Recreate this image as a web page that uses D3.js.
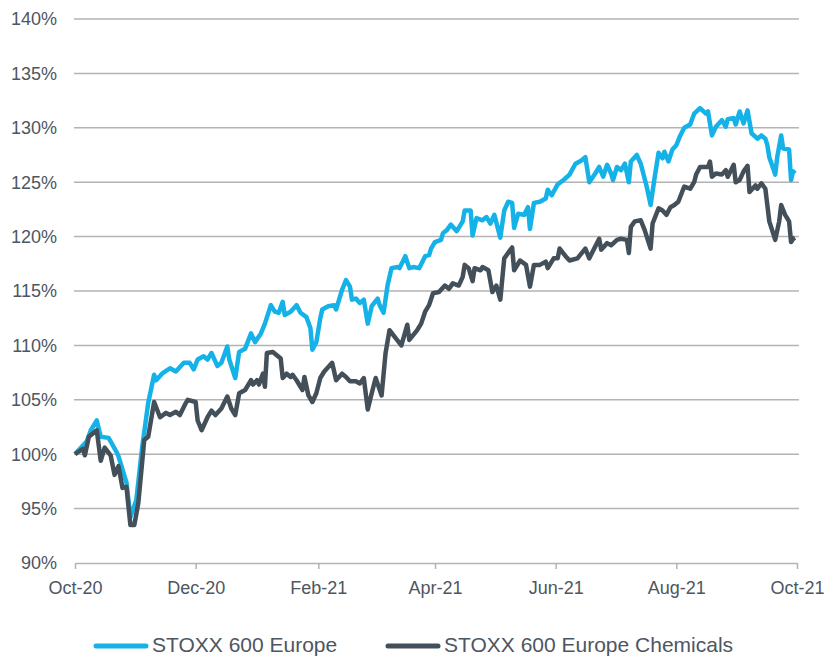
<!DOCTYPE html>
<html>
<head>
<meta charset="utf-8">
<script src="https://cdn.jsdelivr.net/npm/d3@7"></script>
<style>
  body { margin: 0; background: #fff; }
  svg text { font-family: "Liberation Sans", Arial, sans-serif; fill: #4d5661; }
</style>
</head>
<body>
<div id="chart"></div>
<script>
// STOXX 600 Europe, rebased to 100% on 1 Oct 2020
var europeDates = ["2020-10-01","2020-10-05","2020-10-07","2020-10-09","2020-10-12","2020-10-14","2020-10-18","2020-10-22","2020-10-23","2020-10-27",
  "2020-10-29","2020-11-01","2020-11-04","2020-11-07","2020-11-10","2020-11-11","2020-11-14","2020-11-18","2020-11-21","2020-11-25",
  "2020-11-28","2020-11-30","2020-12-02","2020-12-05","2020-12-07","2020-12-09","2020-12-12","2020-12-14","2020-12-17","2020-12-18",
  "2020-12-21","2020-12-23","2020-12-26","2020-12-29","2020-12-31","2021-01-03","2021-01-05","2021-01-08","2021-01-10","2021-01-12",
  "2021-01-14","2021-01-15","2021-01-18","2021-01-21","2021-01-23","2021-01-26","2021-01-28","2021-01-29","2021-01-31","2021-02-02",
  "2021-02-03","2021-02-06","2021-02-09","2021-02-10","2021-02-13","2021-02-15","2021-02-17","2021-02-18","2021-02-20","2021-02-22",
  "2021-02-24","2021-02-26","2021-02-28","2021-03-03","2021-03-04","2021-03-06","2021-03-08","2021-03-10","2021-03-13","2021-03-14",
  "2021-03-17","2021-03-19","2021-03-21","2021-03-24","2021-03-27","2021-03-29","2021-03-30","2021-04-01","2021-04-04","2021-04-05",
  "2021-04-07","2021-04-09","2021-04-12","2021-04-15","2021-04-16","2021-04-19","2021-04-20","2021-04-22","2021-04-25","2021-04-27",
  "2021-04-29","2021-05-01","2021-05-04","2021-05-06","2021-05-08","2021-05-10","2021-05-11","2021-05-13","2021-05-16","2021-05-18",
  "2021-05-19","2021-05-21","2021-05-24","2021-05-27","2021-05-28","2021-05-30","2021-06-02","2021-06-05","2021-06-08","2021-06-11",
  "2021-06-14","2021-06-16","2021-06-18","2021-06-21","2021-06-23","2021-06-25","2021-06-27","2021-06-29","2021-06-30","2021-07-02",
  "2021-07-04","2021-07-06","2021-07-08","2021-07-09","2021-07-12","2021-07-14","2021-07-17","2021-07-19","2021-07-21","2021-07-23",
  "2021-07-25","2021-07-26","2021-07-28","2021-07-30","2021-08-01","2021-08-03","2021-08-05","2021-08-08","2021-08-10","2021-08-13",
  "2021-08-16","2021-08-17","2021-08-19","2021-08-21","2021-08-24","2021-08-26","2021-08-27","2021-08-30","2021-08-31","2021-09-02",
  "2021-09-04","2021-09-06","2021-09-08","2021-09-11","2021-09-13","2021-09-15","2021-09-16","2021-09-17","2021-09-20","2021-09-21",
  "2021-09-23","2021-09-24","2021-09-27","2021-09-28","2021-09-29","2021-09-30"];
var europeValues = [100.0,100.8,101.2,102.2,103.1,101.6,101.5,100.2,99.8,97.4,
  94.2,95.8,100.7,104.7,107.3,106.8,107.4,107.9,107.6,108.4,
  108.4,107.8,108.7,109.0,108.7,109.3,108.1,108.4,109.9,108.7,
  107.0,109.4,109.7,111.1,110.3,111.1,112.0,113.7,113.1,113.0,
  114.0,112.8,113.1,113.7,113.0,112.6,111.6,109.6,110.3,112.5,
  113.3,113.6,113.7,113.3,115.1,116.0,115.4,114.2,114.3,113.9,
  114.2,112.0,113.6,114.3,113.7,113.0,115.5,117.1,117.2,117.1,
  118.2,117.1,117.2,117.1,118.2,118.3,118.9,119.5,119.7,120.3,
  120.6,121.1,120.5,121.4,122.4,122.4,120.1,121.7,121.5,121.8,
  121.2,122.0,119.9,122.4,123.2,123.1,120.8,122.1,122.0,122.7,
  120.7,123.1,123.2,123.5,124.3,123.8,124.8,125.2,125.7,126.7,
  127.0,127.3,125.0,125.8,126.4,125.5,126.6,125.8,125.2,126.4,
  126.1,126.7,125.0,126.9,127.5,126.7,124.6,122.9,125.4,127.7,
  127.2,127.8,126.9,128.0,128.4,129.3,130.0,130.3,131.3,131.8,
  131.3,131.5,129.3,130.1,130.7,130.1,130.8,130.9,130.3,131.5,
  130.4,131.6,129.5,129.0,129.3,129.0,128.4,127.3,125.7,127.3,
  129.3,128.1,128.0,125.2,126.0,125.8];

// STOXX 600 Europe Chemicals, rebased to 100% on 1 Oct 2020
var chemDates = ["2020-10-01","2020-10-05","2020-10-06","2020-10-08","2020-10-12","2020-10-14","2020-10-16","2020-10-19","2020-10-21","2020-10-23",
  "2020-10-25","2020-10-27","2020-10-29","2020-10-31","2020-11-02","2020-11-05","2020-11-07","2020-11-10","2020-11-13","2020-11-16",
  "2020-11-18","2020-11-21","2020-11-23","2020-11-26","2020-11-27","2020-12-01","2020-12-02","2020-12-04","2020-12-07","2020-12-09",
  "2020-12-11","2020-12-14","2020-12-17","2020-12-19","2020-12-21","2020-12-23","2020-12-26","2020-12-29","2020-12-30","2021-01-01",
  "2021-01-02","2021-01-04","2021-01-05","2021-01-06","2021-01-09","2021-01-11","2021-01-13","2021-01-14","2021-01-16","2021-01-18",
  "2021-01-19","2021-01-21","2021-01-24","2021-01-25","2021-01-27","2021-01-29","2021-01-31","2021-02-02","2021-02-04","2021-02-08",
  "2021-02-10","2021-02-13","2021-02-15","2021-02-17","2021-02-20","2021-02-22","2021-02-24","2021-02-26","2021-02-28","2021-03-02",
  "2021-03-05","2021-03-07","2021-03-09","2021-03-12","2021-03-15","2021-03-18","2021-03-19","2021-03-23","2021-03-25","2021-03-27",
  "2021-03-29","2021-03-31","2021-04-03","2021-04-06","2021-04-08","2021-04-10","2021-04-13","2021-04-15","2021-04-16","2021-04-18",
  "2021-04-20","2021-04-21","2021-04-24","2021-04-25","2021-04-28","2021-04-30","2021-05-02","2021-05-04","2021-05-06","2021-05-08",
  "2021-05-10","2021-05-11","2021-05-14","2021-05-17","2021-05-19","2021-05-21","2021-05-24","2021-05-27","2021-05-28","2021-05-31",
  "2021-06-02","2021-06-03","2021-06-06","2021-06-08","2021-06-12","2021-06-16","2021-06-18","2021-06-21","2021-06-23","2021-06-24",
  "2021-06-27","2021-06-29","2021-07-02","2021-07-04","2021-07-07","2021-07-08","2021-07-09","2021-07-11","2021-07-14","2021-07-16",
  "2021-07-19","2021-07-20","2021-07-23","2021-07-25","2021-07-27","2021-07-29","2021-07-31","2021-08-02","2021-08-05","2021-08-08",
  "2021-08-10","2021-08-11","2021-08-13","2021-08-17","2021-08-18","2021-08-19","2021-08-21","2021-08-24","2021-08-26","2021-08-27",
  "2021-08-30","2021-08-31","2021-09-02","2021-09-04","2021-09-06","2021-09-07","2021-09-10","2021-09-11","2021-09-13","2021-09-15",
  "2021-09-16","2021-09-17","2021-09-20","2021-09-22","2021-09-23","2021-09-25","2021-09-27","2021-09-28","2021-09-29","2021-09-30"];
var chemValues = [100.0,100.5,99.9,101.6,102.2,99.4,100.6,99.9,98.1,98.9,
  96.9,97.0,93.5,93.5,95.5,101.3,101.6,104.8,103.4,103.8,
  103.6,103.9,103.6,104.7,105.0,104.8,103.1,102.2,103.4,104.0,
  103.6,104.2,105.3,104.2,103.6,105.6,105.9,106.8,106.4,106.8,
  106.4,107.4,106.2,109.3,109.4,109.1,108.8,107.0,107.4,107.1,
  107.3,106.8,105.9,107.1,105.4,104.8,105.6,107.0,107.6,108.4,
  106.8,107.4,107.1,106.7,106.7,106.5,107.0,104.1,105.6,107.0,
  105.4,109.3,111.4,110.7,110.0,111.9,110.5,111.4,112.0,113.1,
  113.7,114.8,114.9,115.5,115.2,115.7,115.5,116.3,117.4,117.1,
  115.9,117.1,116.9,117.2,116.9,114.9,115.5,114.2,118.0,118.5,
  119.0,116.9,117.8,117.4,115.4,117.4,117.4,117.7,117.1,118.0,
  118.0,118.9,118.2,117.8,118.0,118.9,118.0,119.1,119.8,118.8,
  119.4,119.2,119.7,119.8,119.7,118.5,120.9,121.4,121.5,120.6,
  118.9,121.2,122.6,122.4,122.0,122.7,122.9,123.2,124.6,124.4,
  125.0,125.7,126.4,126.4,126.9,125.5,125.8,125.7,126.1,125.5,
  126.6,125.0,125.2,126.0,126.5,124.1,124.7,124.4,124.9,124.4,
  122.9,121.4,119.7,121.4,122.9,122.0,121.4,119.5,119.8,119.9];

var yTicks = [90, 95, 100, 105, 110, 115, 120, 125, 130, 135, 140];
var xTickDates = ["2020-10-01","2020-12-01","2021-02-01","2021-04-01","2021-06-01","2021-08-01","2021-10-01"];
var seriesNames = ["STOXX 600 Europe", "STOXX 600 Europe Chemicals"];
var seriesColors = ["#15b2e8", "#434f59"];

var width = 825,
    height = 657;

var parseDate = d3.timeParse("%Y-%m-%d");

var svg = d3.select("#chart")
    .append("svg")
    .attr("width", width)
    .attr("height", height)

var x = d3.scaleTime()
    .domain([parseDate("2020-10-01"), parseDate("2021-10-01")])
    .range([75, 797])

var y = d3.scaleLinear()
    .domain([90, 140])
    .range([563, 19])

// gridlines
svg.append("g")
    .selectAll("line")
    .data(yTicks.slice(1))
    .enter().append("line")
    .attr("x1", 74)
    .attr("x2", 799)
    .attr("y1", function(d) { return y(d) })
    .attr("y2", function(d) { return y(d) })
    .attr("stroke", "#b3b3b3")
    .attr("stroke-width", 1.5)

// y labels
svg.append("g")
    .selectAll("text")
    .data(yTicks)
    .enter().append("text")
    .attr("x", 57)
    .attr("y", function(d) { return y(d) })
    .attr("dy", "0.35em")
    .attr("text-anchor", "end")
    .style("font-size", "18px")
    .text(function(d) { return d + "%" })

// x axis
var xAxis = d3.axisBottom(x)
    .tickValues(xTickDates.map(parseDate))
    .tickFormat(d3.timeFormat("%b-%y"))
    .tickSizeInner(6)
    .tickSizeOuter(0)
    .tickPadding(12)

var gx = svg.append("g")
    .attr("transform", "translate(0," + y(90) + ")")
    .call(xAxis)

gx.select(".domain").attr("stroke", "#b3b3b3").attr("stroke-width", 1.5)
gx.selectAll(".tick line").attr("stroke", "#b3b3b3").attr("stroke-width", 1.5)
gx.selectAll(".tick text")
    .style("font-size", "18px")
    .style("font-family", "'Liberation Sans', Arial, sans-serif")
    .attr("fill", "#4d5661")

var line = d3.line()
    .x(function(d) { return x(d.date) })
    .y(function(d) { return y(d.value) })

var europe = europeDates.map(function(d, i) {
    return { date: parseDate(d), value: europeValues[i] }
})
var chem = chemDates.map(function(d, i) {
    return { date: parseDate(d), value: chemValues[i] }
})

svg.append("path")
    .datum(europe)
    .attr("d", line)
    .attr("fill", "none")
    .attr("stroke", seriesColors[0])
    .attr("stroke-width", 4.5)
    .attr("stroke-linejoin", "round")

svg.append("path")
    .datum(chem)
    .attr("d", line)
    .attr("fill", "none")
    .attr("stroke", seriesColors[1])
    .attr("stroke-width", 4.5)
    .attr("stroke-linejoin", "round")

// legend
var legendX = [96, 388];
var legend = svg.append("g")
    .selectAll("g")
    .data(seriesNames)
    .enter().append("g")
    .attr("transform", function(d, i) { return "translate(" + legendX[i] + ",645)" })

legend.append("line")
    .attr("x1", 0)
    .attr("x2", 50)
    .attr("y1", 1)
    .attr("y2", 1)
    .attr("stroke", function(d, i) { return seriesColors[i] })
    .attr("stroke-width", 5)
    .attr("stroke-linecap", "round")

legend.append("text")
    .attr("x", 56)
    .attr("dy", "0.33em")
    .style("font-size", "21px")
    .text(function(d) { return d })
</script>
</body>
</html>
